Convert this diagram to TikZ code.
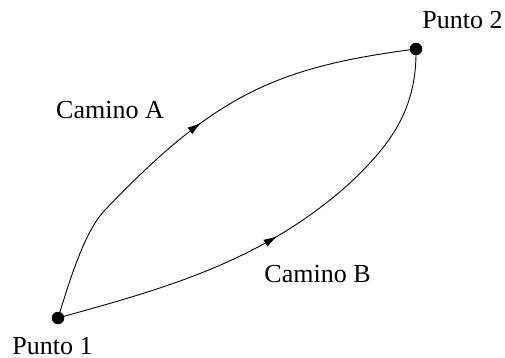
\documentclass[tikz,border=0pt]{standalone}
\usepackage{fontspec}
\setmainfont{Liberation Serif}
\usetikzlibrary{arrows.meta,decorations.markings}
\begin{document}
\begin{tikzpicture}[x=1pt,y=-1pt,
  pt/.style={circle,fill=black,inner sep=0pt,minimum size=12.5pt},
  lbl/.style={inner sep=0pt,font=\fontsize{26}{30}\selectfont},
  path/.style={line width=0.9pt,postaction={decorate},
    decoration={markings,mark=at position #1 with {\arrow{Latex[length=14pt,width=8pt]}}}}]
\useasboundingbox (0,0) rectangle (505,358);
\node[pt] (p1) at (58,318) {};
\node[pt] (p2) at (416,49) {};
\coordinate (ma) at (105,210);
\coordinate (mb) at (350,183);
\node[lbl] (l1) at (52.5,346) {Punto 1};
\node[lbl] (l2) at (462.5,20.5) {Punto 2};
\node[lbl] (ca) at (110,110) {Camino A};
\node[lbl] (cb) at (317.5,274) {Camino B};
\draw[path=0.52] (p1.center) .. controls (70,280) and (84,232) .. (ma)
  .. controls (215,95) and (276,67) .. (p2.center);
\draw[path=0.49] (p1.center) .. controls (158,290) and (260,264) .. (mb)
  .. controls (390,145) and (417,110) .. (p2.center);
\end{tikzpicture}
\end{document}
